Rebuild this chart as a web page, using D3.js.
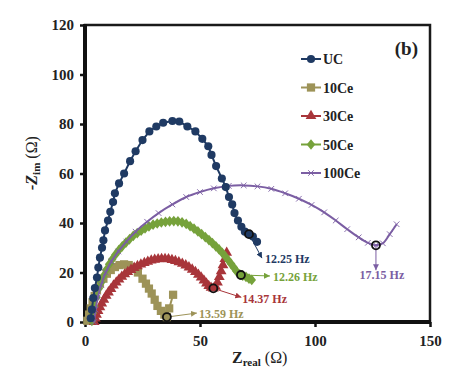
<!DOCTYPE html>
<html>
<head>
<meta charset="utf-8">
<script src="https://cdn.jsdelivr.net/npm/d3@7"></script>
<style>
  html, body { margin: 0; padding: 0; background: #fff; }
  svg text { font-family: 'Liberation Serif', 'Times New Roman', serif; font-weight: bold; }
</style>
</head>
<body>
<div id="chart"></div>
<script>
// Nyquist plot (b)
const seriesNames = ['UC', '10Ce', '30Ce', '50Ce', '100Ce'];

const ucData = [[2.5,1.5],[3,5],[3.6,9.7],[4.3,13.7],[5.2,18],[5.8,22],[6.5,26],[7.4,30],[8,33],[8.7,37],[10,41],
  [11,44.5],[12.2,48.5],[13,52],[14.8,56],[17,60],[19.6,65],[22,69],[25,73.5],[28,77],[31,79],[34,80.5],[38,81.2],
  [41,81],[44.5,79],[48,77],[51,74],[53.6,71],[55,67.5],[57,63],[59.5,58],[61.2,54.5],[62.6,50.5],[64,47.5],[65,44],
  [66.5,41],[68,38.5],[69.5,36.5],[71.3,35.5],[73,34.5],[74.8,32.4]];

const ce10Data = [[1,0.5],[1.8,3],[2.5,5.5],[3.3,8],[4.2,10.5],[5.2,13],[6.5,15.5],[8,17.5],[9.5,19.5],[11.2,21],
  [13,22.2],[15,23],[17,23.3],[19,23],[21,22],[23,20],[25,17.5],[26.5,15.5],[27.8,13.5],[29,11.5],[30.3,9],
  [31.5,6.5],[33,4.5],[34.5,3],[35.6,2],[36.6,5.5],[38.3,11]];

const ce30Data = [[4,0],[4.5,1.5],[5,3],[5.7,4.5],[6.5,6],[7.3,7.5],[8.2,9],[9.2,10.6],[10.2,12],[11.3,13.4],
  [12.4,14.8],[13.6,16],[14.8,17.2],[16,18.3],[17.3,19.3],[18.6,20.2],[20,21.1],[21.4,21.9],[22.8,22.6],[24.3,23.3],
  [25.8,23.9],[27.3,24.4],[28.8,24.9],[30.3,25.2],[31.8,25.4],[33.3,25.5],[34.8,25.5],[36.3,25.4],[37.8,25.1],
  [39.3,24.7],[40.8,24.2],[42.3,23.6],[43.8,22.9],[45.2,22.1],[46.6,21.2],[48,20.2],[49.3,19.1],[50.5,18],
  [51.7,16.8],[52.8,15.6],[53.8,14.6],[54.8,13.9],[55.8,13.6],[56.8,14.3],[57.6,16],[58.4,18.2],[59.2,20.5],
  [60,23],[60.8,25.5],[61.6,28]];

const ce50Data = [[3,0.5],[3.4,3.6],[4,6.5],[5,10],[6,13.5],[7,16],[8,18.5],[9.2,21],[10.5,23.3],[11.8,25.3],
  [13.2,27.2],[14.7,29],[16.2,30.6],[17.8,32.1],[19.4,33.5],[21,34.8],[22.7,35.9],[24.4,36.9],[26.1,37.8],
  [27.8,38.6],[29.6,39.3],[31.4,39.8],[33.2,40.2],[35,40.5],[36.8,40.7],[38.6,40.8],[40.4,40.7],[42.2,40.3],
  [44,39.6],[45.7,38.7],[47.4,37.7],[49.1,36.6],[50.7,35.5],[52.3,34.3],[53.9,33.1],[55.4,31.9],[56.9,30.6],
  [58.3,29.3],[59.7,27.9],[61,26.5],[62.3,25],[63.5,23.5],[64.7,22],[65.8,20.6],[67.3,19.2],[68.6,18.7],
  [70,18.2],[71.3,17.5],[72.5,17]];

const ce100Data = [[4,0],[4.6,5],[5.6,10],[7,15],[9,20],[11.5,24.5],[14.5,28.5],[18,32.5],[22,36.5],[27,40.5],
  [32,44],[38,47.5],[44,50.5],[50,52.5],[56,54],[62.5,55],[69,55.2],[75,54.8],[81,53.8],[87,52],[93,49.8],
  [98.5,47.3],[104,44.3],[109,41],[114,37.5],[119,34.2],[123,32],[126.5,31],[129.5,31.8],[132.5,35.5],[135.5,39.5]];

// puntos de frecuencia marcados
const freqLabels = ['12.25 Hz', '13.59 Hz', '14.37 Hz', '12.26 Hz', '17.15 Hz'];
const freqPoints = [[71.3,35.5],[35.6,2],[55.8,13.6],[67.8,19],[126.5,31]];

const xTicks = [0, 50, 100, 150];
const yTicks = [0, 20, 40, 60, 80, 100, 120];

const colors = ['#1f3a63', '#9d9358', '#a8353a', '#76a23b', '#7b5ea3'];
const allData = [ucData, ce10Data, ce30Data, ce50Data, ce100Data];
// desplazamientos de flecha y texto (px) para cada etiqueta
const labelLayout = [
  { ax: 13, ay: 24, tx: 16, ty: 29, anchor: 'start' },
  { ax: 30, ay: -4, tx: 32, ty: 1, anchor: 'start' },
  { ax: 28, ay: 9, tx: 29, ty: 15, anchor: 'start' },
  { ax: 29, ay: 1, tx: 32, ty: 6, anchor: 'start' },
  { ax: 0, ay: 25, tx: 6, ty: 34, anchor: 'middle' }
];

const W = 474, H = 391;
const m = { left: 85, right: 44, top: 25, bottom: 69 };

const svg = d3.select('#chart').append('svg').attr('width', W).attr('height', H);

const x = d3.scaleLinear().domain([0, 150]).range([m.left, W - m.right]);
const y = d3.scaleLinear().domain([0, 120]).range([H - m.bottom, m.top]);

const defs = svg.append('defs');
colors.forEach((c, i) => {
  defs.append('marker').attr('id', 'arr' + i).attr('viewBox', '0 0 10 10').attr('refX', 10).attr('refY', 5)
    .attr('markerWidth', 6).attr('markerHeight', 6).attr('orient', 'auto').attr('markerUnits', 'userSpaceOnUse')
    .append('path').attr('d', 'M0,0 L10,5 L0,10 z').attr('fill', c);
});

// marco
svg.append('rect').attr('x', x(0)).attr('y', y(120)).attr('width', x(150) - x(0)).attr('height', y(0) - y(120))
  .attr('fill', 'none').attr('stroke', '#1a1a1a').attr('stroke-width', 2.5);

// ejes
const yAxis = svg.append('g').attr('transform', `translate(${x(0)},0)`)
  .call(d3.axisLeft(y).tickValues(yTicks).tickSize(5).tickPadding(6));
const xAxis = svg.append('g').attr('transform', `translate(0,${y(0)})`)
  .call(d3.axisBottom(x).tickValues(xTicks).tickSize(5).tickPadding(8));
[xAxis, yAxis].forEach(g => {
  g.select('.domain').attr('stroke', '#111').attr('stroke-width', 4);
  g.selectAll('.tick line').attr('stroke', '#111').attr('stroke-width', 2.5);
  g.selectAll('.tick text').attr('font-size', 15).attr('fill', '#222')
    .style('font-family', "'Liberation Serif', 'Times New Roman', serif").style('font-weight', 'bold');
});
yAxis.select('.domain').attr('d', `M0,${y(0) + 2}V${y(120) - 1}`);
xAxis.select('.domain').attr('d', `M${x(0) - 2},0H${x(150) + 1}`);

const line = d3.line().x(d => x(d[0])).y(d => y(d[1]));
const smooth = d3.line().x(d => x(d[0])).y(d => y(d[1])).curve(d3.curveCatmullRom);

const sym = [d3.symbolCircle, d3.symbolSquare, d3.symbolTriangle, d3.symbolDiamond, d3.symbolCross];
const symSize = [52, 68, 50, 52, 0];

function drawMarker(g, i, px, py) {
  if (i === 4) {
    g.append('path').attr('d', `M${px-2.8},${py-2.8}L${px+2.8},${py+2.8}M${px-2.8},${py+2.8}L${px+2.8},${py-2.8}`)
      .attr('stroke', colors[i]).attr('stroke-width', 0.9);
  } else {
    g.append('path').attr('d', d3.symbol().type(sym[i]).size(symSize[i])())
      .attr('transform', `translate(${px},${py})` + (i === 3 ? ' scale(1.1,0.8)' : ''))
      .attr('fill', colors[i]);
  }
}

const plot = svg.append('g');
[1, 2, 3, 4, 0].forEach(i => {
  const g = plot.append('g');
  g.append('path').datum(allData[i]).attr('d', i === 4 ? smooth : line)
    .attr('fill', 'none').attr('stroke', colors[i]).attr('stroke-width', 2);
  allData[i].forEach(d => drawMarker(g, i, x(d[0]), y(d[1])));
});

// puntos de frecuencia con flecha
freqPoints.forEach((p, i) => {
  const px = x(p[0]), py = y(p[1]), L = labelLayout[i];
  svg.append('line').attr('x1', px).attr('y1', py).attr('x2', px + L.ax).attr('y2', py + L.ay)
    .attr('stroke', colors[i]).attr('stroke-width', 1).attr('marker-end', `url(#arr${i})`);
  svg.append('circle').attr('cx', px).attr('cy', py).attr('r', 4)
    .attr('fill', 'none').attr('stroke', '#111').attr('stroke-width', 1.8);
  svg.append('text').attr('x', px + L.tx).attr('y', py + L.ty).attr('text-anchor', L.anchor)
    .attr('font-size', 12).attr('fill', colors[i]).text(freqLabels[i]);
});

// leyenda
seriesNames.forEach((name, i) => {
  const ly = 59 + i * 28.5;
  const g = svg.append('g');
  g.append('line').attr('x1', 301).attr('x2', 321).attr('y1', ly).attr('y2', ly)
    .attr('stroke', colors[i]).attr('stroke-width', 2);
  drawMarker(g, i, 311, ly);
  g.append('text').attr('x', 323).attr('y', ly + 5).attr('font-size', 14).attr('fill', '#222').text(name);
});

svg.append('text').attr('x', 418).attr('y', 55).attr('text-anchor', 'end').attr('font-size', 19)
  .attr('fill', '#222').text('(b)');

// titulos de ejes
const xl = svg.append('text').attr('x', 232).attr('y', 363).attr('font-size', 16).attr('fill', '#222');
xl.append('tspan').text('Z');
xl.append('tspan').attr('dy', 3).attr('font-size', 11).text('real');
xl.append('tspan').attr('dy', -3).style('font-weight', 'normal').text(' (Ω)');

const yl = svg.append('text').attr('transform', 'translate(37,190) rotate(-90)').attr('font-size', 16).attr('fill', '#222');
yl.append('tspan').attr('font-style', 'italic').text('-Z');
yl.append('tspan').attr('dy', 3).attr('font-size', 11).text('im');
yl.append('tspan').attr('dy', -3).style('font-weight', 'normal').text(' (Ω)');
</script>
</body>
</html>
